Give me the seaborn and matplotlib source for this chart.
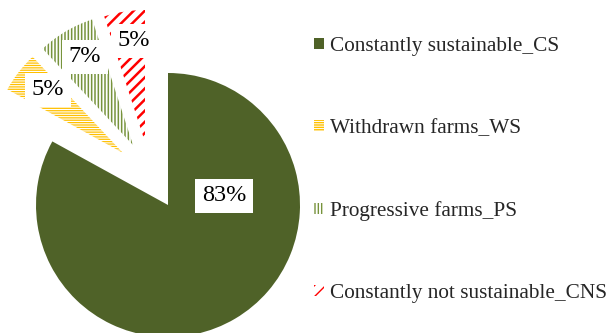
import matplotlib
matplotlib.use("Agg")
import matplotlib.pyplot as plt
import matplotlib.patches as mpatches
import seaborn as sns

# ---- data ----
categories = ["Constantly sustainable_CS", "Withdrawn farms_WS",
              "Progressive farms_PS", "Constantly not sustainable_CNS"]
shares = [83, 5, 7, 5]
pct_labels = ["83%", "5%", "7%", "5%"]

# ---- style ----
colors = ["#4F6228", "#FFC000", "#77933C", "#FF0000"]
hatches = [None, "-------", "|||||", "///"]
hatch_lw = [0, 0.9, 1.1, 1.8]
# per-slice offsets in pixels (dx, dy screen-down) for the exploded slices
offsets_px = [(0, 0), (-45, -52), (-35, -60), (-23, -63)]
# label centres in pixels (x, y from top)
label_px = [(224, 196), (48, 90), (85, 57), (134, 41)]

sns.set_theme(style="white")
plt.rcParams["font.family"] = ["Liberation Serif", "DejaVu Serif"]

W, H, DPI = 609, 333, 100
fig = plt.figure(figsize=(W / DPI, H / DPI), dpi=DPI)
ax = fig.add_axes([0, 0, 1, 1])

R = 132.0          # pie radius in pixels
CX, CY = 168.0, 205.0  # pie centre in pixels (y from top)


def to_data(x, y):
    return ((x - CX) / R, (CY - y) / R)


wedges, _ = ax.pie(shares, startangle=90, counterclock=False, radius=1.0,
                   wedgeprops=dict(linewidth=0))

for w, col, hat, hlw, (dx, dy) in zip(wedges, colors, hatches, hatch_lw, offsets_px):
    w.set_center((dx / R, -dy / R))
    if hat is None:
        w.set_facecolor(col)
        w.set_edgecolor(col)
        w.set_linewidth(0)
    else:
        w.set_facecolor("white")
        w.set_edgecolor(col)
        w.set_linewidth(0)
        w.set_hatch(hat)
        if hasattr(w, "set_hatch_linewidth"):
            w.set_hatch_linewidth(hlw)

for txt, (lx, ly) in zip(pct_labels, label_px):
    x, y = to_data(lx, ly)
    ax.text(x, y, txt, ha="center", va="center", fontsize=17.5, color="black",
            bbox=dict(boxstyle="square,pad=0.28", facecolor="white", edgecolor="none"))

ax.set_aspect("auto")
ax.set_xlim(-CX / R, (W - CX) / R)
ax.set_ylim(-(H - CY) / R, CY / R)
ax.axis("off")

handles = []
for col, hat, hlw in zip(colors, hatches, hatch_lw):
    if hat is None:
        p = mpatches.Patch(facecolor=col, edgecolor=col, linewidth=0)
    else:
        p = mpatches.Patch(facecolor="white", edgecolor=col, hatch=hat, linewidth=0)
        if hasattr(p, "set_hatch_linewidth"):
            p.set_hatch_linewidth(hlw)
    handles.append(p)

fig.legend(handles, categories, loc="center left",
           bbox_to_anchor=(314 / W, 1 - 170 / H), frameon=False,
           fontsize=15.3, handlelength=0.45, handleheight=0.45,
           handletextpad=0.3, labelspacing=2.97, borderpad=0, borderaxespad=0)

fig.savefig("out.png", dpi=DPI, facecolor="white")
